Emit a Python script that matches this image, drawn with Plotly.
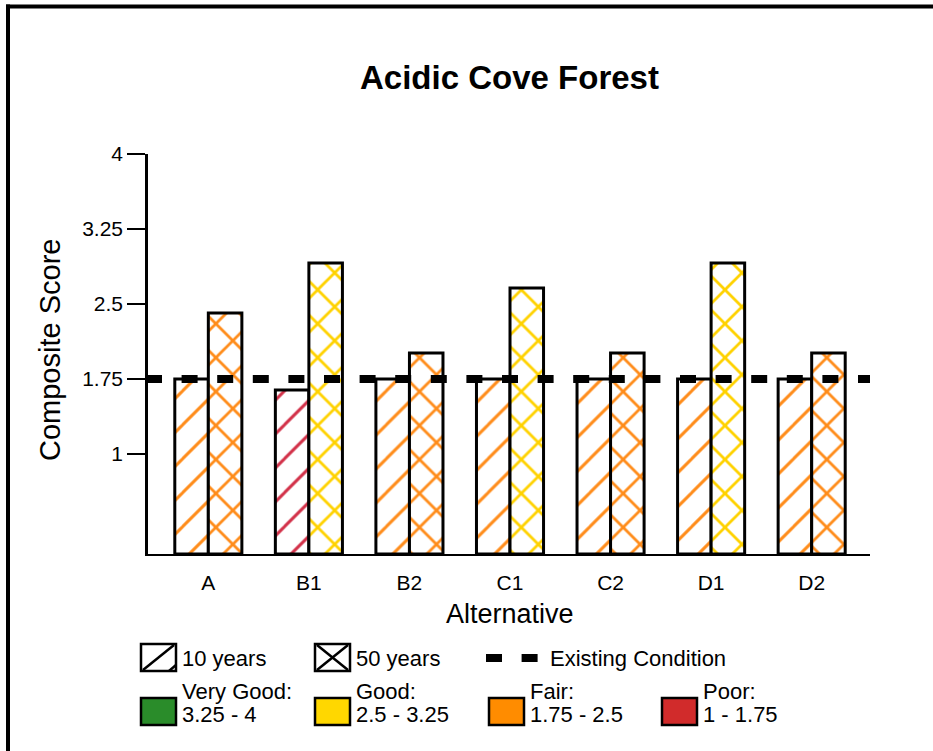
import plotly.graph_objects as go

# ---------------- data ----------------
alternatives = ["A", "B1", "B2", "C1", "C2", "D1", "D2"]
score_10yr = [1.75, 1.64, 1.75, 1.75, 1.75, 1.75, 1.75]
score_50yr = [2.41, 2.91, 2.01, 2.66, 2.01, 2.91, 2.01]
existing_condition = 1.75

y_tick_vals = [1, 1.75, 2.5, 3.25, 4]
y_tick_text = ["1", "1.75", "2.5", "3.25", "4"]

rating_names = ["Very Good:", "Good:", "Fair:", "Poor:"]
rating_ranges = ["3.25 - 4", "2.5 - 3.25", "1.75 - 2.5", "1 - 1.75"]
rating_lower = [3.25, 2.5, 1.75, 1.0]
rating_colors = ["#2A8C2A", "#FFD700", "#FF8C00", "#D12B2B"]
hatch_colors = ["#2A8C2A", "#FFD200", "#FF8C1A", "#D23048"]

period_names = ["10 years", "50 years"]
period_shapes = ["/", "x"]
period_solidity = [0.125, 0.22]

FONT = "Liberation Sans, Arial, Helvetica, sans-serif"


def rating_index(v):
    for i, lo in enumerate(rating_lower):
        if v >= lo - 1e-9:
            return i
    return len(rating_lower) - 1


# ---------------- layout geometry (pixels) ----------------
W, H = 933, 751
L, R, T, B = 148, 870, 154, 554
PW, PH = R - L, B - T


def xp(px):
    return (px - L) / PW


def yp(py):
    return (B - py) / PH


fig = go.Figure()

for name, shape, sol, scores in zip(period_names, period_shapes, period_solidity,
                                     [score_10yr, score_50yr]):
    fig.add_trace(go.Bar(
        x=list(range(len(alternatives))),
        y=scores,
        name=name,
        marker=dict(
            color="white",
            line=dict(color="black", width=3),
            pattern=dict(
                shape=shape,
                fgcolor=[hatch_colors[rating_index(v)] for v in scores],
                fgopacity=1,
                bgcolor="white",
                size=24,
                solidity=sol,
            ),
        ),
        showlegend=False,
    ))

shapes = []
annotations = []

# existing condition dashed line
shapes.append(dict(type="line", xref="paper", yref="y", x0=xp(146), x1=1,
                   y0=existing_condition, y1=existing_condition,
                   line=dict(color="black", width=8, dash="16px,19.6px"), layer="above"))

# frame
shapes.append(dict(type="line", xref="paper", yref="paper", x0=xp(6), x1=xp(940),
                   y0=yp(6.5), y1=yp(6.5), line=dict(color="black", width=4)))
shapes.append(dict(type="line", xref="paper", yref="paper", x0=xp(8), x1=xp(8),
                   y0=yp(4.5), y1=yp(760), line=dict(color="black", width=4)))

# title & axis titles
annotations.append(dict(text="<b>Acidic Cove Forest</b>", xref="paper", yref="paper",
                        x=0.5, y=yp(77), xanchor="center", yanchor="middle",
                        showarrow=False, font=dict(size=33, color="black", family=FONT)))
annotations.append(dict(text="Composite Score", xref="paper", yref="paper",
                        x=xp(50), y=yp(350), xanchor="center", yanchor="middle", textangle=-90,
                        showarrow=False, font=dict(size=29, color="black", family=FONT)))
annotations.append(dict(text="Alternative", xref="paper", yref="paper",
                        x=xp(510), y=yp(614), xanchor="center", yanchor="middle",
                        showarrow=False, font=dict(size=27, color="black", family=FONT)))

# ---------------- legend row 1 ----------------
r1_top, r1_bot = 644, 671
leg_font = dict(size=22, color="black", family=FONT)
box_x = [141, 315]
for bx, name, shape in zip(box_x, period_names, period_shapes):
    x0, x1 = bx, bx + 35
    shapes.append(dict(type="rect", xref="paper", yref="paper", x0=xp(x0), x1=xp(x1),
                       y0=yp(r1_bot), y1=yp(r1_top), line=dict(color="black", width=2.5),
                       fillcolor="white"))
    if shape == "/":
        shapes.append(dict(type="line", xref="paper", yref="paper", x0=xp(x0 + 2), x1=xp(x1 - 2),
                           y0=yp(r1_bot - 1), y1=yp(r1_top + 1), line=dict(color="black", width=2.5)))
        shapes.append(dict(type="line", xref="paper", yref="paper", x0=xp(x1 - 7), x1=xp(x1),
                           y0=yp(r1_bot), y1=yp(r1_bot - 6), line=dict(color="black", width=2.5)))
    else:
        shapes.append(dict(type="line", xref="paper", yref="paper", x0=xp(x0 + 2), x1=xp(x1 - 2),
                           y0=yp(r1_top + 1), y1=yp(r1_bot - 1), line=dict(color="black", width=2.5)))
        shapes.append(dict(type="line", xref="paper", yref="paper", x0=xp(x0 + 2), x1=xp(x1 - 2),
                           y0=yp(r1_bot - 1), y1=yp(r1_top + 1), line=dict(color="black", width=2.5)))
    annotations.append(dict(text=name, xref="paper", yref="paper", x=xp(x1 + 4), y=yp(658),
                            xanchor="left", yanchor="middle", showarrow=False, font=leg_font))

shapes.append(dict(type="line", xref="paper", yref="paper", x0=xp(486), x1=xp(538),
                   y0=yp(658), y1=yp(658), line=dict(color="black", width=8, dash="16px,19.6px")))
annotations.append(dict(text="Existing Condition", xref="paper", yref="paper", x=xp(548), y=yp(658),
                        xanchor="left", yanchor="middle", showarrow=False, font=leg_font))

# ---------------- legend row 2 ----------------
r2_top, r2_bot = 698, 725
rating_box_x = [141, 315, 489, 662]
for bx, nm, rg, col in zip(rating_box_x, rating_names, rating_ranges, rating_colors):
    x0, x1 = bx, bx + 35
    shapes.append(dict(type="rect", xref="paper", yref="paper", x0=xp(x0), x1=xp(x1),
                       y0=yp(r2_bot), y1=yp(r2_top), line=dict(color="black", width=2.5),
                       fillcolor=col))
    annotations.append(dict(text=nm, xref="paper", yref="paper", x=xp(x1 + 4), y=yp(691),
                            xanchor="left", yanchor="middle", showarrow=False, font=leg_font))
    annotations.append(dict(text=rg, xref="paper", yref="paper", x=xp(x1 + 4), y=yp(714),
                            xanchor="left", yanchor="middle", showarrow=False, font=leg_font))

fig.update_layout(
    width=W, height=H,
    margin=dict(l=L, r=W - R, t=T, b=H - B, pad=0),
    paper_bgcolor="white", plot_bgcolor="white",
    barmode="group", bargap=0.333, bargroupgap=0,
    showlegend=False,
    font=dict(family=FONT, color="black"),
    shapes=shapes, annotations=annotations,
    xaxis=dict(
        range=[-0.6, 6.58], tickmode="array",
        tickvals=list(range(len(alternatives))), ticktext=alternatives,
        showline=True, linecolor="black", linewidth=2, ticks="",
        showgrid=False, zeroline=False, tickfont=dict(size=21, color="black"),
        ticklabelstandoff=9, fixedrange=True,
    ),
    yaxis=dict(
        range=[0, 4], tickmode="array", tickvals=y_tick_vals, ticktext=y_tick_text,
        showline=True, linecolor="black", linewidth=2.5,
        ticks="outside", ticklen=18, tickwidth=2, tickcolor="black",
        showgrid=False, zeroline=False, tickfont=dict(size=21, color="black"),
        ticklabelstandoff=0, fixedrange=True,
    ),
)

fig.write_html(
    "out.html",
    config={"displayModeBar": False},
    post_script="document.body.style.margin='0';document.body.style.overflow='hidden';",
)
